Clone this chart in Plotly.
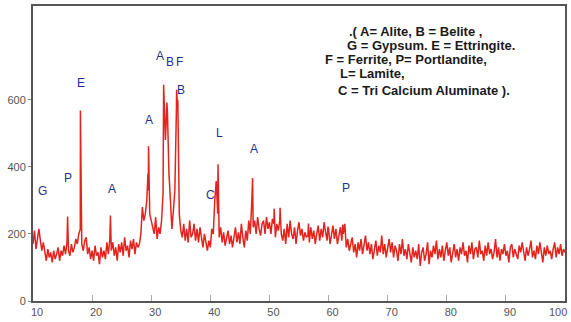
import numpy as np
import plotly.graph_objects as go

# Background intensity, 2-theta grid from 10 to 100 in steps of 0.25 deg (4 values per degree)
background = [
    170, 210, 155, 195,   # 10
    215, 180, 150, 175,   # 11
    140, 120, 155, 130,   # 12
    145, 115, 150, 125,   # 13
    140, 160, 120, 150,   # 14
    135, 165, 140, 175,   # 15
    150, 135, 170, 145,   # 16
    160, 185, 170, 200,   # 17
    215, 170, 150, 180,   # 18
    190, 140, 160, 125,   # 19
    150, 120, 165, 135,   # 20
    145, 110, 160, 130,   # 21
    150, 125, 175, 140,   # 22
    185, 150, 175, 135,   # 23
    160, 120, 170, 145,   # 24
    175, 135, 190, 150,   # 25
    165, 130, 180, 155,   # 26
    185, 140, 175, 160,   # 27
    170, 200, 280, 240,   # 28
    260, 300, 330, 260,   # 29
    240, 215, 200, 250,   # 30
    185, 220, 200, 240,   # 31
    320, 560, 520, 560,   # 32
    380, 300, 215, 270,   # 33
    330, 560, 600, 260,   # 34
    210, 190, 230, 180,   # 35
    215, 175, 240, 190,   # 36
    200, 230, 180, 215,   # 37
    175, 220, 190, 160,   # 38
    200, 170, 150, 180,   # 39
    160, 215, 200, 300,   # 40
    350, 260, 190, 220,   # 41
    175, 205, 165, 190,   # 42
    210, 170, 195, 160,   # 43
    185, 220, 175, 205,   # 44
    170, 230, 190, 160,   # 45
    210, 180, 240, 200,   # 46
    290, 220, 240, 200,   # 47
    250, 215, 195, 230,   # 48
    240, 200, 250, 215,   # 49
    235, 200, 245, 230,   # 50
    190, 230, 210, 240,   # 51
    200, 180, 215, 170,   # 52
    230, 190, 240, 200,   # 53
    185, 220, 170, 210,   # 54
    235, 195, 215, 180,   # 55
    205, 190, 195, 175,   # 56
    220, 185, 210, 170,   # 57
    200, 225, 180, 215,   # 58
    190, 235, 205, 180,   # 59
    215, 170, 200, 225,   # 60
    185, 215, 170, 195,   # 61
    220, 180, 200, 230,   # 62
    160, 185, 150, 175,   # 63
    190, 145, 170, 130,   # 64
    175, 150, 185, 140,   # 65
    165, 195, 150, 175,   # 66
    140, 170, 125, 160,   # 67
    180, 135, 165, 145,   # 68
    195, 140, 170, 130,   # 69
    160, 185, 145, 175,   # 70
    130, 165, 150, 120,   # 71
    170, 140, 185, 135,   # 72
    155, 125, 170, 140,   # 73
    115, 160, 130, 150,   # 74
    125, 170, 105, 145,   # 75
    160, 120, 140, 175,   # 76
    110, 150, 130, 165,   # 77
    140, 180, 125, 155,   # 78
    130, 165, 120, 150,   # 79
    175, 135, 160, 115,   # 80
    145, 170, 130, 155,   # 81
    120, 160, 140, 175,   # 82
    135, 150, 115, 165,   # 83
    140, 175, 125, 155,   # 84
    160, 130, 180, 140,   # 85
    150, 120, 165, 135,   # 86
    175, 140, 155, 125,   # 87
    145, 185, 130, 160,   # 88
    120, 155, 140, 170,   # 89
    135, 150, 115, 160,   # 90
    170, 130, 155, 140,   # 91
    125, 165, 145, 175,   # 92
    140, 120, 160, 135,   # 93
    155, 180, 130, 150,   # 94
    125, 165, 140, 175,   # 95
    145, 115, 160, 135,   # 96
    165, 140, 150, 125,   # 97
    155, 175, 130, 160,   # 98
    140, 170, 135, 155,   # 99
    145,                  # 100
]
grid_start, grid_step = 10.0, 0.25

# Sharp diffraction peaks (2-theta, intensity)
peak_pos = [15.85, 18.02, 23.1, 29.45, 29.55, 32.1, 32.2, 32.4, 32.65, 34.3, 34.42, 41.0, 41.3, 47.15, 50.8, 51.8, 56.6, 59.9, 62.4]
peak_int = [252,   568,   255,  380,   462,   645,  600,  480,  592,   630,  590,   358,  408,  367,   275,  278,  231,  222,  228]

# Phase labels
label_text = ["G", "P", "E", "A", "A", "A", "B", "F", "B", "L", "C", "A", "P"]
label_x = [11.6, 15.9, 18.2, 23.4, 29.7, 31.5, 33.1, 34.8, 35.1, 41.5, 40.1, 47.4, 63.0]
label_y = [328, 367, 650, 334, 541, 730, 712, 712, 629, 500, 317, 453, 337]

legend_lines = [
    ".( A= Alite, B = Belite ,",
    "G = Gypsum. E = Ettringite.",
    "F = Ferrite, P= Portlandite,",
    "L= Lamite,",
    "C = Tri Calcium Aluminate ).",
]
legend_x = [63.2, 62.8, 59.0, 61.6, 61.3]
legend_y = [803, 761, 720, 679, 628]

x_ticks = [10, 20, 30, 40, 50, 60, 70, 80, 90, 100]
y_ticks = [0, 200, 400, 600]

grid_x = [grid_start + i * grid_step for i in range(len(background))]
pts = sorted(list(zip(grid_x, background)) + list(zip(peak_pos, peak_int)))
xs = [p[0] for p in pts]
ys = [p[1] for p in pts]

fig = go.Figure()
fig.add_trace(go.Scatter(x=xs, y=ys, mode="lines",
                         line=dict(color="#e3231e", width=1.5), hoverinfo="skip"))

for t, x, y in zip(label_text, label_x, label_y):
    fig.add_annotation(x=x, y=y, text=t, showarrow=False,
                       font=dict(family="Liberation Sans, Arial", size=12, color="#23318a"))

for t, x, y in zip(legend_lines, legend_x, legend_y):
    fig.add_annotation(x=x, y=y, text="<b>" + t + "</b>", showarrow=False, xanchor="left",
                       font=dict(family="Liberation Sans, Arial", size=13, color="#1a1a1a"))

axis_font = dict(family="Liberation Sans Narrow, Arial Narrow, Liberation Sans, Arial", size=11, color="#555")

# last x tick label sits against the right edge of the page (cut like the reference)
x_ticktext = [str(v) for v in x_ticks[:-1]] + [""]
fig.add_annotation(xref="paper", yref="paper", x=1.0, y=0, xshift=4, yshift=-3,
                   xanchor="right", yanchor="top", text=str(x_ticks[-1]), showarrow=False,
                   font=axis_font)

fig.update_xaxes(range=[10, 100], tickvals=x_ticks, ticktext=x_ticktext,
                 ticks="inside", ticklen=6, tickcolor="#aaa", tickwidth=1,
                 ticklabelshift=4,
                 showline=True, linecolor="#555", linewidth=2, mirror=True,
                 showgrid=False, zeroline=False, tickfont=axis_font)
fig.update_yaxes(range=[0, 880], tickvals=y_ticks, ticktext=[str(v) for v in y_ticks],
                 ticks="outside", ticklen=3, tickcolor="#888", tickwidth=1,
                 showline=True, linecolor="#555", linewidth=2, mirror=True,
                 showgrid=False, zeroline=False, tickfont=axis_font)
fig.update_layout(width=571, height=322, margin=dict(l=33, r=4, t=6, b=19),
                  paper_bgcolor="white", plot_bgcolor="white", showlegend=False)
fig.write_html("out.html")
